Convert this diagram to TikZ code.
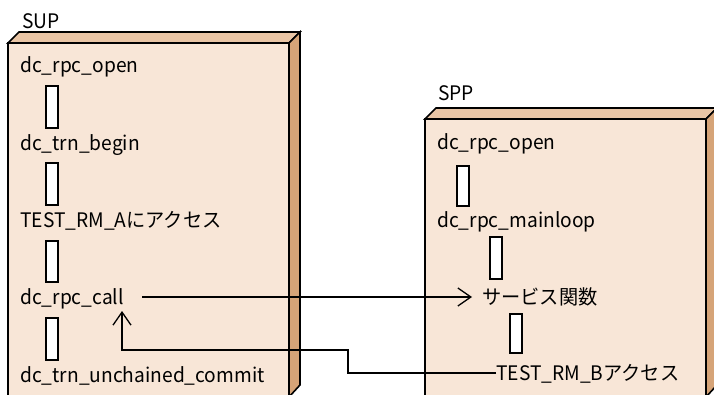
\documentclass[tikz,border=0pt]{standalone}
\usepackage{fontspec}
\setmainfont[FakeStretch=0.96]{Noto Sans CJK JP}
\usepackage{tikz}
\usetikzlibrary{arrows.meta}
\definecolor{facecol}{HTML}{F8E6D7}
\definecolor{topcol}{HTML}{E9C5A5}
\definecolor{sidecol}{HTML}{D6A478}
\tikzset{
    every node/.style={inner sep=0pt, font=\fontsize{20}{24}\selectfont}
}
\tikzset{
    step text/.style={anchor=west, text height=16pt, text depth=2pt},
    linkbar/.style={draw, fill=white, line width=1.2pt, minimum width=12pt},
    boxline/.style={draw=black, line width=1.6pt, line join=miter},
    arr/.style={-{Straight Barb[length=13pt,width=18pt]}, line width=1.3pt}
}

\begin{document}
\begin{tikzpicture}[x=1pt, y=-1pt]
  \useasboundingbox (0,0) rectangle (714,395);
  % SUP box
  \filldraw[fill=facecol, boxline] (8,43) rectangle (289,397);
  \filldraw[fill=topcol, boxline] (8,43) -- (19,32) -- (300,32) -- (289,43) -- cycle;
  \filldraw[fill=sidecol, boxline] (289,43) -- (300,32) -- (300,385) -- (289,397) -- cycle;
  % SPP box
  \filldraw[fill=facecol, boxline] (425,119) rectangle (706,397);
  \filldraw[fill=topcol, boxline] (425,119) -- (436,108) -- (717,108) -- (706,119) -- cycle;
  \filldraw[fill=sidecol, boxline] (706,119) -- (717,108) -- (717,385) -- (706,397) -- cycle;

  \node (sup) [anchor=west] at (22,21) {SUP};
  \node (spp) [anchor=west] at (438,93) {SPP};

  \node (open) [step text] at (20,66) {dc\_rpc\_open};
  \node (begin) [step text] at (20,144) {dc\_trn\_begin};
  \node (rma) [step text] at (20,221) {TEST\_RM\_Aにアクセス};
  \node (call) [step text] at (20,297) {dc\_rpc\_call};
  \node (commit) [step text] at (20,375) {dc\_trn\_unchained\_commit};

  \node (sopen) [step text] at (437,143) {dc\_rpc\_open};
  \node (loop) [step text] at (437,221) {dc\_rpc\_mainloop};
  \node (svc) [step text] at (482,297) {サービス関数};
  \node (rmb) [step text] at (496,373) {TEST\_RM\_Bアクセス};

  \node (bar1) [linkbar, minimum height=42pt] at (52,107) {};
  \node (bar2) [linkbar, minimum height=42pt] at (52,184) {};
  \node (bar3) [linkbar, minimum height=41pt] at (52,261.5) {};
  \node (bar4) [linkbar, minimum height=42pt] at (52,339) {};
  \node (bar5) [linkbar, minimum height=40pt] at (463,186) {};
  \node (bar6) [linkbar, minimum height=42pt] at (496,258) {};
  \node (bar7) [linkbar, minimum height=39pt] at (516,333.5) {};

  \coordinate (turn) at (348,350);
  \coordinate (back) at (122,311);

  \draw[arr, shorten <=18pt, shorten >=10pt] (call) -- (svc);
  \draw[arr] (rmb.west) -| (turn) -| (back);
\end{tikzpicture}
\end{document}
